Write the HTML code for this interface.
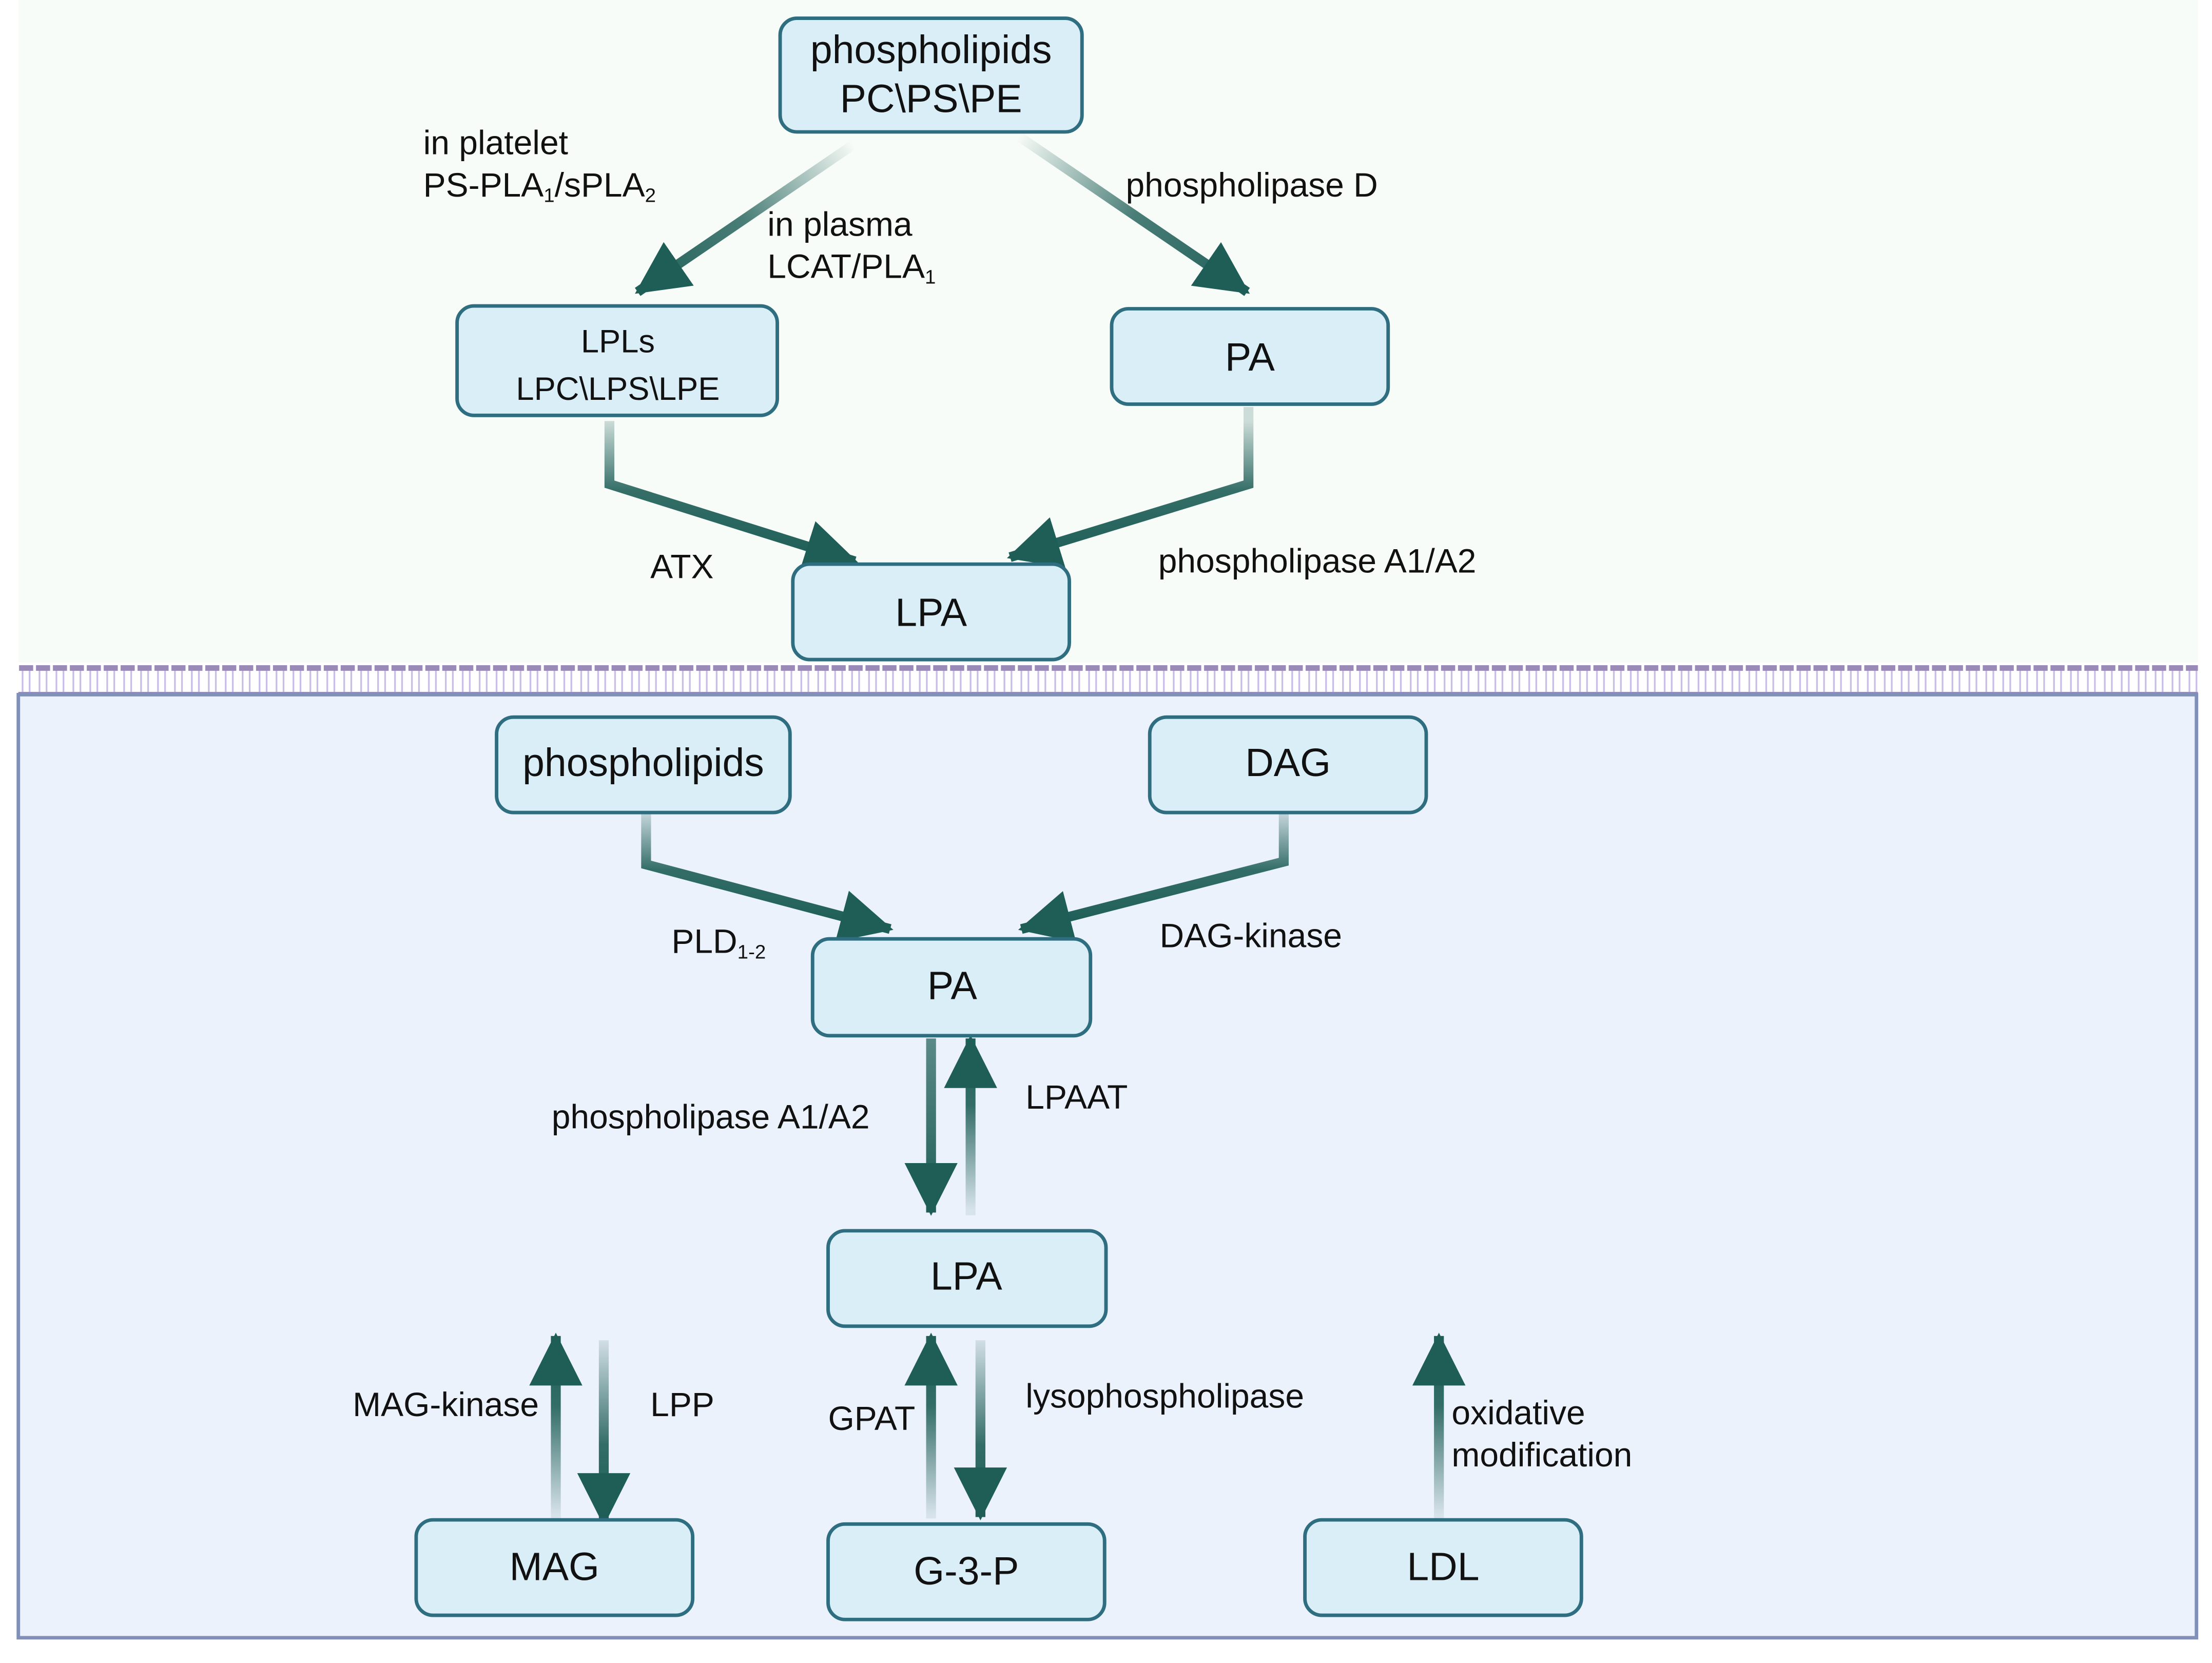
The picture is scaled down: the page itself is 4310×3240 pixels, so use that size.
<!DOCTYPE html>
<html><head><meta charset="utf-8"><style>html,body{margin:0;padding:0;background:#fff}svg{display:block}</style></head>
<body>
<svg width="4310" height="3240" viewBox="0 0 1568 1185" preserveAspectRatio="none" xmlns="http://www.w3.org/2000/svg" font-family="Liberation Sans, sans-serif">
<defs>
<marker id="ah" markerUnits="userSpaceOnUse" markerWidth="40" markerHeight="40" viewBox="0 0 34 34" refX="30" refY="17" orient="auto"><path d="M0,1 L32,17 L0,33 z" fill="#1e5e57"/></marker>
<pattern id="mem" x="13" y="472" width="12" height="26" patternUnits="userSpaceOnUse">
<rect x="0.5" y="2" width="10" height="4" fill="#9a8ab8"/>
<path d="M3,6 V21 M8,6 V21" stroke="#c8bde6" stroke-width="1.2" fill="none"/>
</pattern>
</defs>
<rect x="0" y="0" width="1568" height="1185" fill="#fff"/>
<rect x="13" y="0" width="1545" height="472" fill="#f8fcf8"/>
<rect x="13" y="472" width="1545" height="22" fill="url(#mem)"/>
<rect x="13" y="493" width="1545" height="4" fill="#9a8ab8"/>
<rect x="13" y="495" width="1544" height="672" fill="#ecf2fb" stroke="#8090b8" stroke-width="2.5"/>

<g stroke-width="7" fill="none" marker-end="url(#ah)">
<linearGradient id="g1" gradientUnits="userSpaceOnUse" x1="605" y1="103" x2="450" y2="210"><stop offset="0" stop-color="#1e5e57" stop-opacity="0"/><stop offset="0.5" stop-color="#1e5e57" stop-opacity="0.8"/><stop offset="1" stop-color="#1e5e57"/></linearGradient>
<path d="M605,103 L452,208" stroke="url(#g1)"/>
<linearGradient id="g2" gradientUnits="userSpaceOnUse" x1="722" y1="97" x2="885" y2="210"><stop offset="0" stop-color="#1e5e57" stop-opacity="0"/><stop offset="0.5" stop-color="#1e5e57" stop-opacity="0.8"/><stop offset="1" stop-color="#1e5e57"/></linearGradient>
<path d="M722,97 L884,208" stroke="url(#g2)"/>
<linearGradient id="g3" gradientUnits="userSpaceOnUse" x1="0" y1="300" x2="0" y2="400"><stop offset="0" stop-color="#1e5e57" stop-opacity="0.2"/><stop offset="0.5" stop-color="#1e5e57" stop-opacity="0.9"/><stop offset="1" stop-color="#1e5e57"/></linearGradient>
<path d="M432,300 V345 L606,400" stroke="url(#g3)"/>
<path d="M885,290 V345 L716,397" stroke="url(#g3)"/>
<linearGradient id="g4" gradientUnits="userSpaceOnUse" x1="0" y1="580" x2="0" y2="660"><stop offset="0" stop-color="#1e5e57" stop-opacity="0.2"/><stop offset="0.5" stop-color="#1e5e57" stop-opacity="0.9"/><stop offset="1" stop-color="#1e5e57"/></linearGradient>
<path d="M458,580 V616 L631,662" stroke="url(#g4)"/>
<path d="M910,580 V614 L724,662" stroke="url(#g4)"/>
<linearGradient id="gd" gradientUnits="userSpaceOnUse" x1="0" y1="738" x2="0" y2="862"><stop offset="0" stop-color="#1e5e57" stop-opacity="0.7"/><stop offset="1" stop-color="#1e5e57"/></linearGradient>
<linearGradient id="gu" gradientUnits="userSpaceOnUse" x1="0" y1="862" x2="0" y2="738"><stop offset="0" stop-color="#1e5e57" stop-opacity="0.1"/><stop offset="0.6" stop-color="#1e5e57" stop-opacity="0.9"/><stop offset="1" stop-color="#1e5e57"/></linearGradient>
<path d="M660,740 V864" stroke="url(#gd)"/>
<path d="M688,866 V740" stroke="url(#gu)"/>
<linearGradient id="gd2" gradientUnits="userSpaceOnUse" x1="0" y1="952" x2="0" y2="1082"><stop offset="0" stop-color="#1e5e57" stop-opacity="0.1"/><stop offset="0.6" stop-color="#1e5e57" stop-opacity="0.9"/><stop offset="1" stop-color="#1e5e57"/></linearGradient>
<linearGradient id="gu2" gradientUnits="userSpaceOnUse" x1="0" y1="1080" x2="0" y2="950"><stop offset="0" stop-color="#1e5e57" stop-opacity="0.1"/><stop offset="0.6" stop-color="#1e5e57" stop-opacity="0.9"/><stop offset="1" stop-color="#1e5e57"/></linearGradient>
<path d="M394,1082 V952" stroke="url(#gu2)"/>
<path d="M428,955 V1085" stroke="url(#gd2)"/>
<path d="M660,1082 V952" stroke="url(#gu2)"/>
<path d="M695,955 V1081" stroke="url(#gd2)"/>
<path d="M1020,1082 V952" stroke="url(#gu2)"/>
</g>

<g fill="#d9eef6" stroke="#2f6e80" stroke-width="2.5">
<rect x="553" y="13" width="214" height="81" rx="12"/>
<rect x="324" y="218" width="227" height="78" rx="12"/>
<rect x="788" y="220" width="196" height="68" rx="12"/>
<rect x="562" y="402" width="196" height="68" rx="12"/>
<rect x="352" y="511" width="208" height="68" rx="12"/>
<rect x="815" y="511" width="196" height="68" rx="12"/>
<rect x="576" y="669" width="197" height="69" rx="12"/>
<rect x="587" y="877" width="197" height="68" rx="12"/>
<rect x="295" y="1083" width="196" height="68" rx="12"/>
<rect x="587" y="1086" width="196" height="68" rx="12"/>
<rect x="925" y="1083" width="196" height="68" rx="12"/>
</g>

<g fill="#111" font-size="28" text-anchor="middle">
<text x="660" y="45">phospholipids</text>
<text x="660" y="80">PC\PS\PE</text>
<text x="438" y="251" font-size="23">LPLs</text>
<text x="438" y="285" font-size="23">LPC\LPS\LPE</text>
<text x="886" y="264">PA</text>
<text x="660" y="446">LPA</text>
<text x="456" y="553">phospholipids</text>
<text x="913" y="553">DAG</text>
<text x="675" y="712">PA</text>
<text x="685" y="919">LPA</text>
<text x="393" y="1126">MAG</text>
<text x="685" y="1129">G-3-P</text>
<text x="1023" y="1126">LDL</text>
</g>
<g fill="#111" font-size="24">
<text x="300" y="110">in platelet</text>
<text x="300" y="140">PS-PLA<tspan font-size="14" dy="4">1</tspan><tspan dy="-4">/sPLA</tspan><tspan font-size="14" dy="4">2</tspan></text>
<text x="544" y="168">in plasma</text>
<text x="544" y="198">LCAT/PLA<tspan font-size="14" dy="4">1</tspan></text>
<text x="798" y="140">phospholipase D</text>
<text x="461" y="412">ATX</text>
<text x="821" y="408">phospholipase A1/A2</text>
<text x="476" y="679">PLD<tspan font-size="14" dy="4">1-2</tspan></text>
<text x="822" y="675">DAG-kinase</text>
<text x="391" y="804">phospholipase A1/A2</text>
<text x="727" y="790">LPAAT</text>
<text x="250" y="1009">MAG-kinase</text>
<text x="461" y="1009">LPP</text>
<text x="587" y="1019">GPAT</text>
<text x="727" y="1003">lysophospholipase</text>
<text x="1029" y="1015">oxidative</text>
<text x="1029" y="1045">modification</text>
</g>
</svg>
</body></html>
